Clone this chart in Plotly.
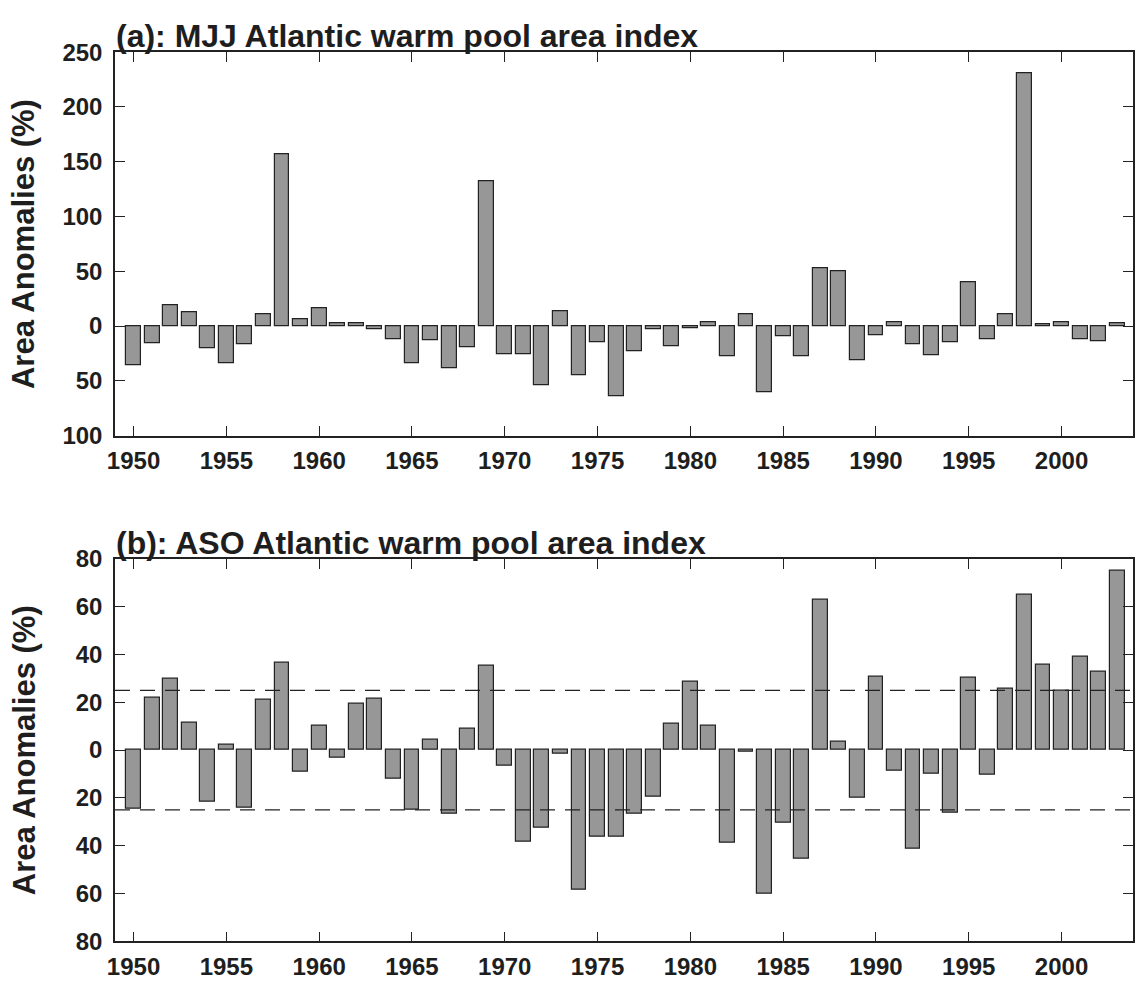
import plotly.graph_objects as go

years = list(range(1950, 2004))

mjj = [-35.5, -15.4, 18.9, 12.7, -20.7, -34.0, -16.3, 11.2, 156.5, 5.9,
       16.6, 2.4, 2.4, -3.0, -11.8, -34.3, -13.0, -38.8, -19.5, 132.2,
       -26.0, -25.4, -53.8, 13.9, -45.3, -15.1, -63.9, -23.1, -2.7, -18.9,
       -1.8, 3.3, -27.2, 11.2, -60.7, -9.2, -27.5, 53.0, 50.0, -31.7,
       -8.6, 3.8, -16.9, -26.3, -14.5, 40.0, -11.8, 11.2, 231.0, 1.5,
       3.3, -12.4, -14.2, 2.4]

aso = [-24.7, 22.0, 29.7, 11.3, -21.7, 2.3, -24.1, 21.0, 36.5, -9.2,
       10.3, -3.4, 19.5, 21.3, -11.8, -25.0, 4.1, -26.7, 8.8, 35.3,
       -6.4, -38.4, -32.3, -1.4, -58.4, -36.3, -36.3, -26.7, -19.5, 11.1,
       28.6, 10.2, -38.6, -0.8, -60.3, -30.2, -45.3, 62.9, 3.4, -19.9,
       30.6, -8.8, -41.4, -9.8, -26.2, 30.2, -10.4, 25.5, 65.1, 35.8,
       24.9, 39.2, 32.7, 75.0]

aso_thresholds = [25, -25]

x_ticks = [1950, 1955, 1960, 1965, 1970, 1975, 1980, 1985, 1990, 1995, 2000]
ya_ticks = [250, 200, 150, 100, 50, 0, -50, -100]
ya_text = ["250", "200", "150", "100", "50", "0", "50", "100"]
yb_ticks = [80, 60, 40, 20, 0, -20, -40, -60, -80]
yb_text = ["80", "60", "40", "20", "0", "20", "40", "60", "80"]

titles = ["(a): MJJ Atlantic warm pool area index",
          "(b): ASO Atlantic warm pool area index"]
ylabel = "Area Anomalies (%)"

W, H = 1135, 992
L = 115
FONT = "Liberation Sans, Arial, Helvetica, sans-serif"
AX = "#222222"
TXT = "#1e1e1e"

fig = go.Figure()

bar_style = dict(marker=dict(color="#979797", line=dict(color="#222222", width=1.2)),
                 width=0.8, showlegend=False, hoverinfo="x+y")
fig.add_trace(go.Bar(x=years, y=mjj, xaxis="x", yaxis="y", **bar_style))
fig.add_trace(go.Bar(x=years, y=aso, xaxis="x2", yaxis="y2", **bar_style))

dom_a = [1 - 433.3 / H, 1 - 39.3 / H]
dom_b = [1 - 953.3 / H, 1 - 560.0 / H]

def xax(anchor):
    return dict(range=[1949, 2003.85], tickvals=x_ticks, ticks="inside", ticklen=10,
                tickwidth=1, tickcolor=AX, showline=True, linecolor=AX, linewidth=1.5,
                mirror="ticks", showgrid=False, zeroline=False, anchor=anchor,
                tickfont=dict(family=FONT, size=24, color=TXT, weight="bold"),
                ticklabelstandoff=3)

def yax(rng, tv, tt, dom, anchor):
    return dict(range=rng, tickvals=tv, ticktext=tt, ticks="inside", ticklen=10,
                tickwidth=1, tickcolor=AX, showline=True, linecolor=AX, linewidth=1.5,
                mirror="ticks", showgrid=False, zeroline=False, domain=dom, anchor=anchor,
                tickfont=dict(family=FONT, size=24, color=TXT, weight="bold"),
                ticklabelstandoff=6)

fig.update_layout(
    width=W, height=H,
    margin=dict(l=L, r=0, t=0, b=0),
    paper_bgcolor="white", plot_bgcolor="white",
    bargap=0,
    xaxis=xax("y"),
    xaxis2=xax("y2"),
    yaxis=yax([-100, 250], ya_ticks, ya_text, dom_a, "x"),
    yaxis2=yax([-80, 80], yb_ticks, yb_text, dom_b, "x2"),
)

for t in aso_thresholds:
    fig.add_shape(type="line", xref="x2 domain", yref="y2", x0=0, x1=1, y0=t, y1=t,
                  line=dict(color="#222222", width=1.2, dash="15px,10px"), layer="above")

plot_w = W - L
for title, dom in zip(titles, [dom_a, dom_b]):
    fig.add_annotation(text=title, xref="paper", yref="paper", x=-1 / plot_w, y=dom[1],
                       xanchor="left", yanchor="bottom", showarrow=False, yshift=-4,
                       font=dict(family=FONT, size=32, color=TXT, weight="bold"))
    fig.add_annotation(text=ylabel, xref="paper", yref="paper", x=(24 - L) / plot_w,
                       y=(dom[0] + dom[1]) / 2, xanchor="center", yanchor="middle",
                       textangle=-90, showarrow=False,
                       font=dict(family=FONT, size=31, color=TXT, weight="bold"))

fig.write_html("out.html")
